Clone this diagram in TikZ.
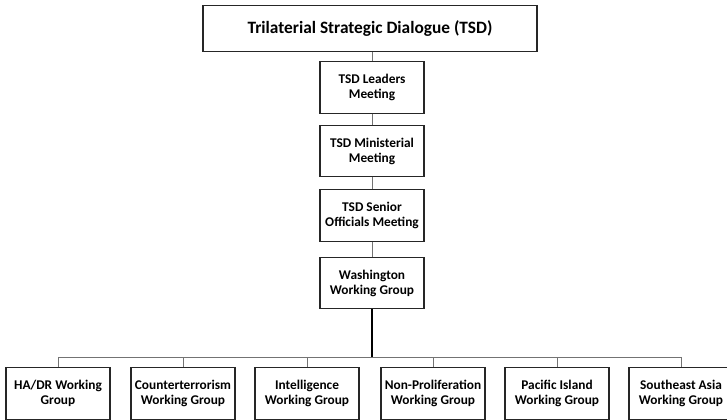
\documentclass[tikz,border=0pt]{standalone}
\usepackage{fontspec}
\setmainfont{Carlito}
\begin{document}
\begin{tikzpicture}[x=0.75pt,y=-0.75pt,
  box/.style={draw=black!85,line width=0.9pt,fill=white,minimum width=78pt,minimum height=38.5pt,
    inner sep=1pt,align=center,font=\bfseries\fontsize{10}{11.3}\selectfont},
  thin/.style={draw=black!55,line width=0.6pt},
  thick/.style={draw=black,line width=1.1pt}]
\useasboundingbox (0,0) rectangle (727,420);
\fill[white] (0,0) rectangle (727,420);
\node[box,minimum width=250.5pt,minimum height=35pt,font=\bfseries\fontsize{13}{15}\selectfont] (tsd) at (370,28.5) {Trilaterial Strategic Dialogue (TSD)};
\node[box] (lead) at (372,87.5) {TSD Leaders\\Meeting};
\node[box] (min) at (372,151) {TSD Ministerial\\Meeting};
\node[box] (sen) at (372,215.5) {TSD Senior\\Officials Meeting};
\node[box] (wash) at (372,283) {Washington\\Working Group};
\node[box] (g1) at (58,393.5) {HA/DR Working\\Group};
\node[box] (g2) at (183,393.5) {Counterterrorism\\Working Group};
\node[box] (g3) at (307,393.5) {Intelligence\\Working Group};
\node[box] (g4) at (433,393.5) {Non-Proliferation\\Working Group};
\node[box] (g5) at (557,393.5) {Pacific Island\\Working Group};
\node[box] (g6) at (681,393.5) {Southeast Asia\\Working Group};
\coordinate (bus) at (0,357);
\draw[thin] (tsd.south -| lead.north) -- (lead.north);
\draw[thin] (lead) -- (min);
\draw[thin] (min) -- (sen);
\draw[thin] (sen) -- (wash);
\draw[thin] (g1.north) -- (g1.north |- bus) -- (g6.north |- bus) -- (g6.north);
\foreach \g in {g2,g3,g4,g5} \draw[thin] (\g.north) -- (\g.north |- bus);
\draw[thick] (wash.south) -- (wash.south |- bus);
\end{tikzpicture}
\end{document}
